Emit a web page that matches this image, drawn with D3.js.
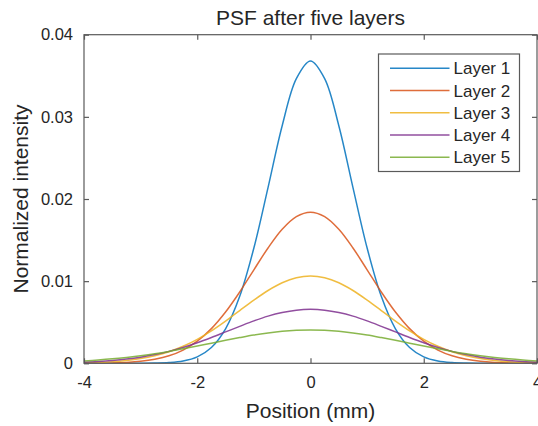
<!DOCTYPE html>
<html>
<head>
<meta charset="utf-8">
<script src="https://cdn.jsdelivr.net/npm/d3@7"></script>
<style>
  html, body { margin: 0; padding: 0; background: #ffffff; }
  svg { display: block; font-family: "Liberation Sans", Arial, Helvetica, sans-serif; }
</style>
</head>
<body>
<svg id="chart" width="538" height="426"></svg>
<script>
// Lateral position samples (mm)
const positions = [-4, -3.75, -3.5, -3.25, -3, -2.75, -2.5, -2.25, -2, -1.75, -1.5, -1.25, -1, -0.75, -0.5, -0.25,
  0, 0.25, 0.5, 0.75, 1, 1.25, 1.5, 1.75, 2, 2.25, 2.5, 2.75, 3, 3.25, 3.5, 3.75, 4];

// Normalized intensity of the point spread function after each layer
const layer1 = [0, 0, 0, 0, 0.00001, 0.00003, 0.00009, 0.00028, 0.00078, 0.00192, 0.00420, 0.00815, 0.01403, 0.02139, 0.02892, 0.03465,
  0.03680, 0.03465, 0.02892, 0.02139, 0.01403, 0.00815, 0.00420, 0.00192, 0.00078, 0.00028, 0.00009, 0.00003, 0.00001, 0, 0, 0, 0];
const layer2 = [0.00001, 0.00002, 0.00005, 0.00011, 0.00024, 0.00049, 0.00091, 0.00161, 0.00269, 0.00422, 0.00624, 0.00868, 0.01138, 0.01404, 0.01632, 0.01786,
  0.01840, 0.01786, 0.01632, 0.01404, 0.01138, 0.00868, 0.00624, 0.00422, 0.00269, 0.00161, 0.00091, 0.00049, 0.00024, 0.00011, 0.00005, 0.00002, 0.00001];
const layer3 = [0.00006, 0.00011, 0.00020, 0.00035, 0.00058, 0.00093, 0.00141, 0.00207, 0.00292, 0.00395, 0.00514, 0.00642, 0.00769, 0.00886, 0.00980, 0.01041,
  0.01062, 0.01041, 0.00980, 0.00886, 0.00769, 0.00642, 0.00514, 0.00395, 0.00292, 0.00207, 0.00141, 0.00093, 0.00058, 0.00035, 0.00020, 0.00011, 0.00006];
const layer4 = [0.00014, 0.00022, 0.00034, 0.00051, 0.00075, 0.00106, 0.00145, 0.00193, 0.00250, 0.00314, 0.00382, 0.00450, 0.00516, 0.00574, 0.00618, 0.00647,
  0.00657, 0.00647, 0.00618, 0.00574, 0.00516, 0.00450, 0.00382, 0.00314, 0.00250, 0.00193, 0.00145, 0.00106, 0.00075, 0.00051, 0.00034, 0.00022, 0.00014];
const layer5 = [0.00029, 0.00040, 0.00054, 0.00072, 0.00093, 0.00117, 0.00145, 0.00177, 0.00210, 0.00245, 0.00280, 0.00313, 0.00344, 0.00369, 0.00389, 0.00401,
  0.00405, 0.00401, 0.00389, 0.00369, 0.00344, 0.00313, 0.00280, 0.00245, 0.00210, 0.00177, 0.00145, 0.00117, 0.00093, 0.00072, 0.00054, 0.00040, 0.00029];

const seriesNames = ["Layer 1", "Layer 2", "Layer 3", "Layer 4", "Layer 5"];
const seriesValues = [layer1, layer2, layer3, layer4, layer5];
const seriesColors = ["#0072BD", "#D95319", "#EDB120", "#7E2F8E", "#77AC30"];

const xTicks = [-4, -2, 0, 2, 4];
const xTickLabels = ["-4", "-2", "0", "2", "4"];
const yTicks = [0, 0.01, 0.02, 0.03, 0.04];
const yTickLabels = ["0", "0.01", "0.02", "0.03", "0.04"];

const titleText = "PSF after five layers";
const xLabelText = "Position (mm)";
const yLabelText = "Normalized intensity";

// Layout
const plot = { left: 84, right: 537, top: 34.7, bottom: 363.3 };
const axisColor = "#5a5a5a";
const textColor = "#262626";
const tickLen = 5;

const svg = d3.select("#chart");

const x = d3.scaleLinear().domain([-4, 4]).range([plot.left, plot.right]);
const y = d3.scaleLinear().domain([0, 0.04]).range([plot.bottom, plot.top]);

svg.append("defs").append("clipPath").attr("id", "plot-clip")
  .append("rect")
  .attr("x", plot.left).attr("y", plot.top)
  .attr("width", plot.right - plot.left).attr("height", plot.bottom - plot.top);

// Curves
const line = d3.line()
  .x((d, i) => x(positions[i]))
  .y(d => y(d))
  .curve(d3.curveCatmullRom.alpha(0.5));

const curves = svg.append("g").attr("clip-path", "url(#plot-clip)");
seriesValues.forEach((vals, k) => {
  curves.append("path")
    .datum(vals)
    .attr("d", line)
    .attr("fill", "none")
    .attr("stroke", seriesColors[k])
    .attr("stroke-width", 1.5)
    .attr("stroke-opacity", 0.85)
    .attr("stroke-linejoin", "round");
});

// Axes: bottom/left carry labels, top/right repeat the inward ticks
const fmtX = d => xTickLabels[xTicks.indexOf(d)];
const fmtY = d => yTickLabels[yTicks.indexOf(d)];

const bottomAxis = svg.append("g")
  .attr("transform", `translate(0,${plot.bottom})`)
  .call(d3.axisBottom(x).tickValues(xTicks).tickSizeInner(-tickLen).tickSizeOuter(0).tickPadding(12)
    .tickFormat(fmtX));
const topAxis = svg.append("g")
  .attr("transform", `translate(0,${plot.top})`)
  .call(d3.axisTop(x).tickValues(xTicks).tickSizeInner(-tickLen).tickSizeOuter(0).tickFormat(""));
const leftAxis = svg.append("g")
  .attr("transform", `translate(${plot.left},0)`)
  .call(d3.axisLeft(y).tickValues(yTicks).tickSizeInner(-tickLen).tickSizeOuter(0).tickPadding(11)
    .tickFormat(fmtY));
const rightAxis = svg.append("g")
  .attr("transform", `translate(${plot.right},0)`)
  .call(d3.axisRight(y).tickValues(yTicks).tickSizeInner(-tickLen).tickSizeOuter(0).tickFormat(""));

[bottomAxis, topAxis, leftAxis, rightAxis].forEach(g => {
  g.select(".domain").remove();
  g.selectAll(".tick line").attr("stroke", axisColor).attr("stroke-width", 1.2);
  g.selectAll(".tick text").attr("fill", textColor).style("font-size", "16.5px")
    .style("font-family", "'Liberation Sans', Arial, sans-serif");
});
bottomAxis.selectAll(".tick text").attr("dy", "0.75em");

// Axes box
svg.append("rect")
  .attr("x", plot.left).attr("y", plot.top)
  .attr("width", plot.right - plot.left).attr("height", plot.bottom - plot.top)
  .attr("fill", "none").attr("stroke", axisColor).attr("stroke-width", 1.2);

// Title and axis labels
svg.append("text")
  .attr("x", (plot.left + plot.right) / 2).attr("y", 25)
  .attr("text-anchor", "middle").attr("fill", textColor)
  .style("font-size", "21px")
  .text(titleText);

svg.append("text")
  .attr("x", (plot.left + plot.right) / 2).attr("y", 418)
  .attr("text-anchor", "middle").attr("fill", textColor)
  .style("font-size", "21px")
  .text(xLabelText);

svg.append("text")
  .attr("transform", `translate(28,${(plot.top + plot.bottom) / 2}) rotate(-90)`)
  .attr("text-anchor", "middle").attr("fill", textColor)
  .style("font-size", "21px")
  .text(yLabelText);

// Legend
const legend = { x: 378.5, y: 54, w: 141, h: 117.5, rowH: 22.25, firstRow: 68.3 };
const lg = svg.append("g");
lg.append("rect")
  .attr("x", legend.x).attr("y", legend.y)
  .attr("width", legend.w).attr("height", legend.h)
  .attr("fill", "#ffffff").attr("stroke", axisColor).attr("stroke-width", 1.2);
seriesNames.forEach((name, k) => {
  const cy = legend.firstRow + k * legend.rowH;
  lg.append("line")
    .attr("x1", 390).attr("x2", 449.5)
    .attr("y1", cy).attr("y2", cy)
    .attr("stroke", seriesColors[k]).attr("stroke-width", 1.5).attr("stroke-opacity", 0.85);
  lg.append("text")
    .attr("x", 453.5).attr("y", cy)
    .attr("dy", "0.35em")
    .attr("fill", textColor)
    .style("font-size", "17px")
    .text(name);
});
</script>
</body>
</html>
